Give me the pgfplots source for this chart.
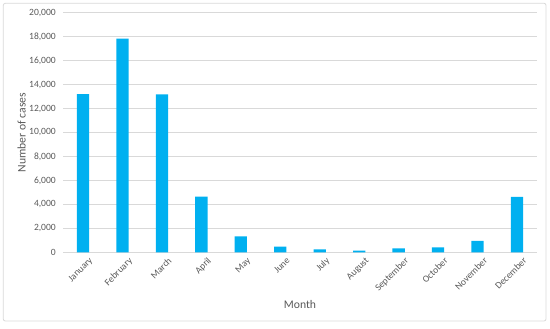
\documentclass[border=0pt]{standalone}
\usepackage{fontspec}
\setmainfont{Carlito}
\usepackage{pgfplots}
\pgfplotsset{compat=1.18}
\definecolor{barblue}{HTML}{00B0F0}
\definecolor{txtgray}{HTML}{595959}
\definecolor{gridgray}{HTML}{D9D9D9}
\begin{document}
\begin{tikzpicture}[x=1bp,y=1bp]
\useasboundingbox (0,0) rectangle (550,328);
\draw[gridgray, rounded corners=2bp, line width=0.8bp] (3.3,7) rectangle (546,324.7);
\begin{axis}[
  at={(63.3bp,75.7bp)}, anchor=south west,
  scale only axis, width=473.4bp, height=239.6bp,
  xmin=-0.5, xmax=11.5, ymin=0, ymax=20000,
  ybar, bar width=12.3bp,
  scaled y ticks=false,
  xtick={0,...,11},
  xticklabels={January,February,March,April,May,June,July,August,September,October,November,December},
  ytick={0,2000,4000,6000,8000,10000,12000,14000,16000,18000,20000},
  yticklabels={0,{2,000},{4,000},{6,000},{8,000},{10,000},{12,000},{14,000},{16,000},{18,000},{20,000}},
  ymajorgrids, grid style={gridgray, line width=0.6bp},
  axis line style={draw=none},
  major tick length=0pt,
  tick label style={font=\fontsize{9.6}{11}\selectfont, text=txtgray},
  yticklabel style={xshift=-4bp},
  xticklabel style={rotate=45, anchor=north east, inner sep=1bp, yshift=-6bp, xshift=2bp},
  label style={font=\fontsize{11.7}{14}\selectfont, text=txtgray},
  ylabel={Number of cases},
  xlabel={Month},
  ylabel style={at={(axis description cs:-0.0879,0.5)}, anchor=center},
  xlabel style={at={(axis description cs:0.5,-0.217)}, anchor=center},
]
\addplot[fill=barblue, draw=none] coordinates {
(0,13210) (1,17830) (2,13180) (3,4640) (4,1340) (5,470)
(6,240) (7,130) (8,330) (9,420) (10,960) (11,4620)
};
\end{axis}
\end{tikzpicture}
\end{document}
